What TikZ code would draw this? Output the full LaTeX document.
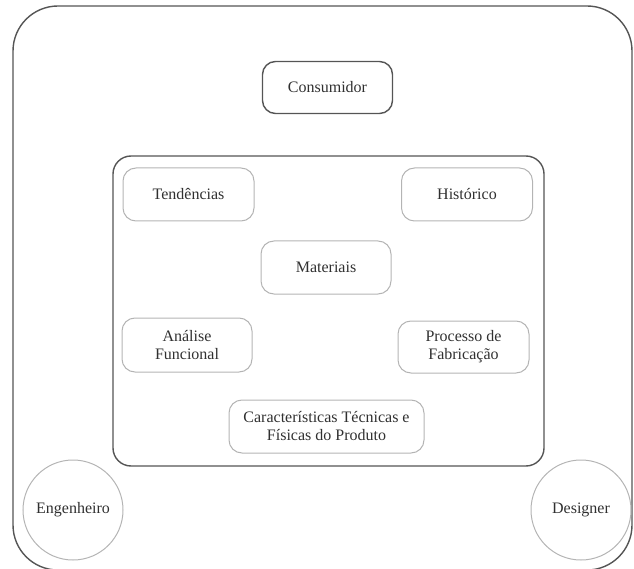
\documentclass[tikz,border=0pt]{standalone}
\usepackage{fontspec}
\setmainfont{Liberation Serif}
\definecolor{framegray}{HTML}{555555}
\definecolor{boxgray}{HTML}{B4B4B4}
\definecolor{textgray}{HTML}{303030}
\tikzset{
  frame/.style={draw=framegray, line width=1.4pt, rectangle, inner sep=0pt},
  item/.style={draw=boxgray, line width=1pt, rounded corners=13pt, rectangle,
    minimum width=131pt, minimum height=53pt, inner sep=2pt, align=center,
    text=textgray, font=\fontsize{16}{18}\selectfont},
  role/.style={draw=boxgray, line width=1pt, circle, minimum size=100pt,
    inner sep=0pt, text=textgray, font=\fontsize{16}{18}\selectfont}
}
\begin{document}
\begin{tikzpicture}[x=1pt, y=-1pt]
  \useasboundingbox (0,0) rectangle (634,569);
  \begin{scope}
    \clip (0,0) rectangle (634,569);
    % outer frame, its lower edge just below the page
    \node[frame, rounded corners=45pt, minimum width=619pt, minimum height=564pt]
      (outer) at (322.5,288) {};
    % consumer box
    \node[item, draw=framegray, line width=1.4pt, minimum width=130pt, minimum height=52pt]
      (cons) at (327.5,87.5) {Consumidor};
    % inner frame
    \node[frame, rounded corners=18pt, minimum width=431pt, minimum height=310pt]
      (inner) at (328.5,311) {};
    % product aspects
    \node[item] (tend) at (188.5,194.5) {Tendências};
    \node[item] (hist) at (467,194.5) {Histórico};
    \node[item, minimum width=130pt] (mat) at (326,267.5) {Materiais};
    \node[item, minimum width=130pt, minimum height=54pt] (anal) at (187,345) {Análise\\Funcional};
    \node[item, minimum width=131pt, minimum height=52pt] (proc) at (463.5,347) {Processo de\\Fabricação};
    \node[item, minimum width=195pt] (carac) at (326.5,426.5) {Características Técnicas e\\Físicas do Produto};
    % roles
    \node[role] (eng) at (73,510) {Engenheiro};
    \node[role] (des) at (581,510) {Designer};
  \end{scope}
\end{tikzpicture}
\end{document}
